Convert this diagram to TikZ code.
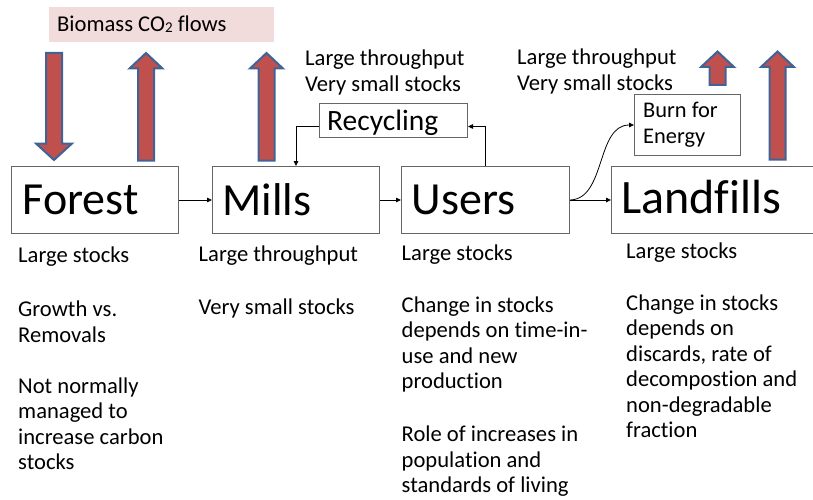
\documentclass[tikz,border=0pt]{standalone}
\usepackage{fontspec}
\setmainfont{Carlito}[Ligatures=NoCommon]
\usetikzlibrary{arrows.meta}
\definecolor{blockred}{HTML}{C0504D}
\definecolor{blockblue}{HTML}{3F6397}
\definecolor{titlepink}{HTML}{F2DCDB}
\newcommand\lines[1]{\begin{tabular}[t]{@{}l@{}}#1\end{tabular}}
% block arrow: centre x, tip y, head-base y, tail y, head half-width, shaft half-width
\newcommand\blockarr[6]{%
  \draw[blockarrow] (#1,#2) -- (#1+#5,#3) -- (#1+#6,#3) -- (#1+#6,#4)
    -- (#1-#6,#4) -- (#1-#6,#3) -- (#1-#5,#3) -- cycle;}
\tikzset{
  stage/.style={draw=black!60, line width=1pt, inner sep=0pt, anchor=north west},
  bigtext/.style={anchor=base west, inner sep=0pt, font=\fontsize{46}{50}\selectfont},
  bodytext/.style={anchor=base west, inner sep=0pt, font=\fontsize{22.6}{25.5}\selectfont},
  conn/.style={draw=black, line width=0.8pt, -{Triangle[length=5pt,width=4.5pt]}},
  blockarrow/.style={fill=blockred, draw=blockblue, line width=2pt},
}
\begin{document}
\begin{tikzpicture}[x=1pt, y=-1pt]
\useasboundingbox (0,0) rectangle (813,500);

% title band
\fill[titlepink] (48.5,7) rectangle (274,42.5);
\node[bodytext] (title) at (57,31.5) {Biomass CO\raisebox{-1pt}{\fontsize{15}{15}\selectfont 2} flows};

% carbon flows
\blockarr{54}{160}{143.5}{53}{18}{8}
\blockarr{146}{53}{68.5}{160.5}{16.5}{8}
\blockarr{266.5}{53}{68.5}{160.5}{16.5}{8}
\blockarr{717.5}{51.5}{67}{85}{16.5}{8}
\blockarr{777.5}{51.5}{67}{159.5}{16.5}{8}

% stages
\node[stage, minimum width=167pt, minimum height=67pt] (forest) at (11,166) {};
\node[stage, minimum width=167pt, minimum height=67pt] (mills) at (212,166) {};
\node[stage, minimum width=168pt, minimum height=67pt] (users) at (401,166) {};
\node[stage, minimum width=220pt, minimum height=67pt] (landfills) at (611,166) {};
\node[stage, minimum width=148pt, minimum height=34pt] (recycling) at (319,103) {};
\node[stage, minimum width=106pt, minimum height=61pt] (burn) at (634,94) {};

\node[bigtext] (forestlbl) at (22.5,214) {Forest};
\node[bigtext] (millslbl) at (222,215) {Mills};
\node[bigtext] (userslbl) at (411.5,214) {Users};
\node[bigtext, font=\fontsize{48}{52}\selectfont] (landfillslbl) at (621,213.5) {Landfills};
\node[anchor=base west, inner sep=0pt, font=\fontsize{29.5}{31}\selectfont] (recyclinglbl) at (327,131) {Recycling};
\node[bodytext] (burnlbl) at (643,117.3) {\fontsize{22.4}{26}\selectfont\lines{Burn for\\Energy}};

% connectors
\draw[conn] (forest.east) -- (mills.west);
\draw[conn] (mills.east) -- (users.west);
\draw[conn] (users.east) -- (landfills.west);
\draw[conn] ([yshift=-6pt]recycling.west) -| (mills.north);
\draw[conn] (users.north) |- ([yshift=-6pt]recycling.east);
\draw[conn] (users.east) .. controls (606,199) and (596,125) .. (burn.west);

% notes above
\node[bodytext] (midnote) at (305,66) {\lines{Large throughput\\Very small stocks}};
\node[bodytext] (rightnote) at (517,65) {\lines{Large throughput\\Very small stocks}};

% notes below
\node[bodytext] (f1) at (18,262) {Large stocks};
\node[bodytext] (f2) at (18,316.5) {\lines{Growth vs.\\Removals}};
\node[bodytext] (f3) at (18,393) {\lines{Not normally\\managed to\\increase carbon\\stocks}};

\node[bodytext] (m1) at (198.5,261) {Large throughput};
\node[bodytext] (m2) at (198.5,314.5) {Very small stocks};

\node[bodytext] (u1) at (401.5,260.5) {Large stocks};
\node[bodytext] (u2) at (401.5,312.3) {\lines{Change in stocks\\depends on time-in-\\use and new\\production}};
\node[bodytext] (u3) at (401.5,441.7) {\lines{Role of increases in\\population and\\standards of living}};

\node[bodytext] (l1) at (626,258) {Large stocks};
\node[bodytext] (l2) at (626,310) {\lines{Change in stocks\\depends on\\discards, rate of\\decompostion and\\non-degradable\\fraction}};
\end{tikzpicture}
\end{document}
